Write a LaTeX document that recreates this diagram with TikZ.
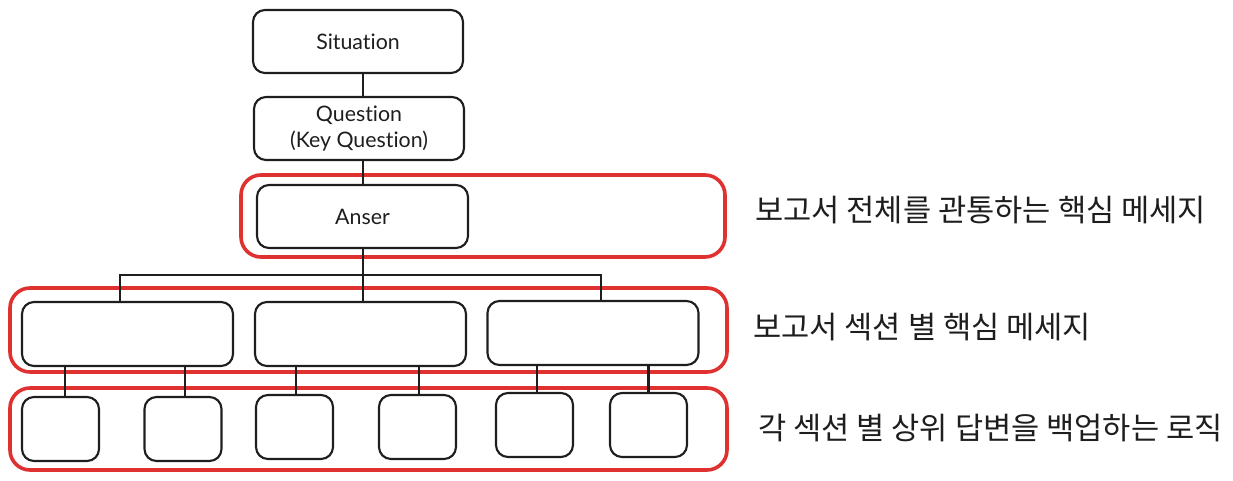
\documentclass[tikz,border=0pt]{standalone}
\usepackage{fontspec}
\setmainfont{Lato}[Ligatures=NoCommon]
\newfontfamily\kr{Noto Sans CJK KR}
\definecolor{exred}{HTML}{E03131}
\definecolor{exblack}{HTML}{1E1E1E}
\begin{document}
\begin{tikzpicture}[x=0.75pt,y=-0.75pt,
  bx/.style={draw=exblack,line width=1.6pt,rounded corners=9pt,fill=white,inner sep=0pt,outer sep=0pt,align=center,font=\fontsize{16}{19}\selectfont,text=exblack},
  topbox/.style={bx,minimum width=210*0.75pt,minimum height=63*0.75pt},
  secbox/.style={bx,minimum width=211*0.75pt,minimum height=64*0.75pt},
  smallbox/.style={bx,minimum width=77*0.75pt,minimum height=64*0.75pt},
  redbox/.style={draw=exred,line width=2.7pt,rounded corners=15pt,inner sep=0pt,outer sep=0pt},
  note/.style={anchor=west,inner sep=0pt,font=\kr\fontsize{23}{27}\selectfont,text=exblack},
  link/.style={draw=exblack,line width=1.6pt}]
\useasboundingbox (0,0) rectangle (1233,481);
% red groups
\node[redbox,minimum width=484*0.75pt,minimum height=82*0.75pt] (red1) at (483,216) {};
\node[redbox,minimum width=717*0.75pt,minimum height=84*0.75pt] (red2) at (368.5,330) {};
\node[redbox,minimum width=717*0.75pt,minimum height=82*0.75pt] (red3) at (368.5,429) {};
% top chain
\node[topbox] (sit) at (358,41.5) {Situation};
\node[topbox] (que) at (359,128.5) {Question\\(Key Question)};
\node[topbox,minimum width=211*0.75pt] (ans) at (362.5,216.5) {Anser};
% section boxes
\node[secbox] (s1) at (127.5,334) {};
\node[secbox] (s2) at (360.5,334) {};
\node[secbox] (s3) at (593,333) {};
% small boxes
\node[smallbox] (a) at (60.5,429) {};
\node[smallbox] (b) at (183,429) {};
\node[smallbox] (c) at (294.5,427) {};
\node[smallbox] (d) at (417.5,427) {};
\node[smallbox] (e) at (534.5,425) {};
\node[smallbox] (f) at (648.5,425) {};
% connectors
\draw[link] (sit.south -| 363,0) -- (que.north -| 363,0);
\draw[link] (que.south -| 363,0) -- (ans.north -| 363,0);
\draw[link] (ans.south -| 363,0) -- (363,275) coordinate (bus);
\draw[link] ([xshift=-7.5*0.75pt]s1.north) |- (bus) -| ([xshift=8*0.75pt]s3.north);
\draw[link] (bus) -- (s2.north -| bus);
\draw[link] ([xshift=4.5*0.75pt]a.north) -- ([xshift=4.5*0.75pt]a.north |- s1.south);
\draw[link] ([xshift=2*0.75pt]b.north) -- ([xshift=2*0.75pt]b.north |- s1.south);
\draw[link] ([xshift=1.5*0.75pt]c.north) -- ([xshift=1.5*0.75pt]c.north |- s2.south);
\draw[link] ([xshift=1.5*0.75pt]d.north) -- ([xshift=1.5*0.75pt]d.north |- s2.south);
\draw[link] ([xshift=2.5*0.75pt]e.north) -- ([xshift=2.5*0.75pt]e.north |- s3.south);
\draw[link] (f.north) -- (f.north |- s3.south);
% notes
\node[note] (n1) at (755,210) {보고서 전체를 관통하는 핵심 메세지};
\node[note] (n2) at (753,327) {보고서 섹션 별 핵심 메세지};
\node[note] (n3) at (758,428) {각 섹션 별 상위 답변을 백업하는 로직};
\end{tikzpicture}
\end{document}
